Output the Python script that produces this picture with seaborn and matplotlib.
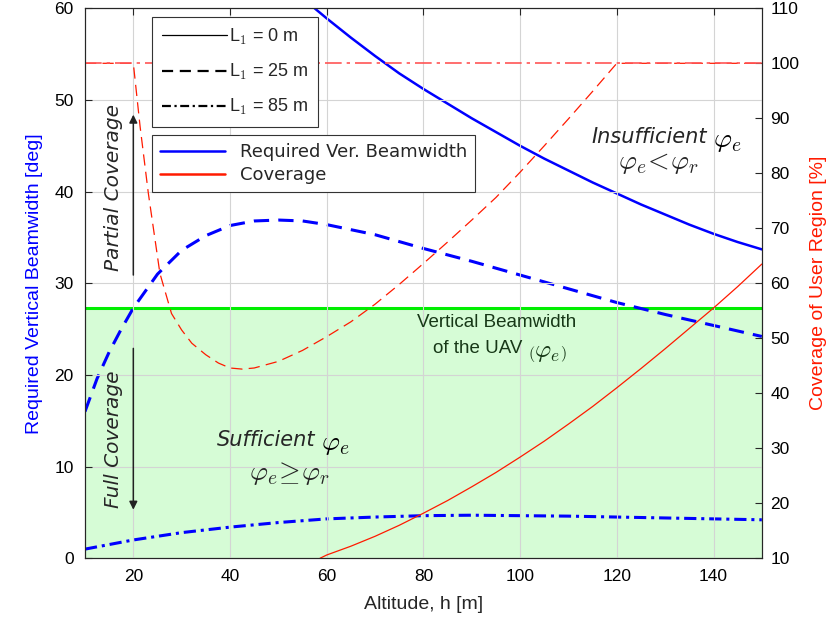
import numpy as np
import pandas as pd
import matplotlib
matplotlib.use("Agg")
import matplotlib.pyplot as plt
from matplotlib.lines import Line2D
import seaborn as sns

# ---------------- data ----------------
# Required vertical beamwidth [deg], left axis
h_bw_l0 = [57.5, 60, 65, 70, 75, 80, 85, 90, 95, 100, 105, 110, 115, 120,
           125, 130, 135, 140, 145, 150]
bw_l0 = [60.0, 58.9, 56.8, 54.8, 52.9, 51.2, 49.6, 48.0, 46.5, 45.0, 43.6,
         42.3, 41.0, 39.8, 38.6, 37.5, 36.4, 35.4, 34.5, 33.7]

h_bw_l25 = [10, 12.5, 15, 17.5, 20, 25, 30, 35, 40, 45, 50, 55, 60, 70, 80,
            90, 100, 110, 120, 130, 140, 150]
bw_l25 = [16.0, 19.6, 22.5, 25.0, 27.3, 31.0, 33.6, 35.2, 36.3, 36.8, 36.9,
          36.8, 36.4, 35.3, 33.8, 32.4, 30.9, 29.4, 27.9, 26.6, 25.4, 24.2]

h_bw_l85 = [10, 20, 30, 40, 50, 60, 70, 80, 90, 100, 110, 120, 130, 140, 150]
bw_l85 = [1.0, 2.0, 2.8, 3.4, 3.9, 4.3, 4.5, 4.65, 4.7, 4.65, 4.6, 4.5, 4.4,
          4.3, 4.2]

# Coverage of user region [%], right axis
h_cov_l0 = [58.6, 60, 65, 70, 75, 80, 85, 90, 95, 100, 105, 110, 115, 120,
            125, 130, 135, 140, 145, 150]
cov_l0 = [10.0, 10.6, 12.2, 14.0, 16.0, 18.2, 20.5, 23.0, 25.6, 28.4, 31.3,
          34.4, 37.6, 41.0, 44.5, 48.1, 51.8, 55.5, 59.4, 63.5]

h_cov_l25 = [10, 20, 21.4, 23.1, 25.5, 27.9, 30, 32.1, 35, 37.6, 40, 42.5, 45,
             50, 55, 60, 65, 70, 75, 80, 85, 90, 95, 100, 105, 110, 115, 120,
             150]
cov_l25 = [100, 100, 88.5, 76.4, 61.8, 54.5, 51.5, 49.1, 47.0, 45.5, 44.6,
           44.4, 44.6, 45.8, 47.8, 50.3, 53.0, 56.2, 59.8, 63.6, 67.5, 71.5,
           75.6, 80.2, 85.0, 89.9, 94.9, 100, 100]

h_cov_l85 = [10, 150]
cov_l85 = [100, 100]

uav_beamwidth = 27.3  # vertical beamwidth of the UAV [deg]

legend_l1 = ["L$_1$ = 0 m", "L$_1$ = 25 m", "L$_1$ = 85 m"]
legend_kind = ["Required Ver. Beamwidth", "Coverage"]

x_ticks = [20, 40, 60, 80, 100, 120, 140]
y_left_ticks = [0, 10, 20, 30, 40, 50, 60]
y_right_ticks = [10, 20, 30, 40, 50, 60, 70, 80, 90, 100, 110]

# ---------------- style ----------------
sns.set_theme(style="white")
plt.rcParams["font.family"] = ["Liberation Sans", "DejaVu Sans"]
plt.rcParams["mathtext.fontset"] = "cm"

fig = plt.figure(figsize=(8.29, 6.24), dpi=100)
ax = fig.add_axes([0.1025, 0.1053, 0.8165, 0.8814])
ax2 = ax.twinx()

BLUE = "#0000FF"
RED = "#FF1A00"

# green region + line
ax.axhspan(0, uav_beamwidth, color="#D6FCD6", zorder=0.2, lw=0)
ax.axhline(uav_beamwidth, color="#00EE00", lw=2.2, zorder=1.5)

# blue curves (left axis)
sns.lineplot(x=h_bw_l0, y=bw_l0, ax=ax, color=BLUE, lw=1.8, linestyle="-")
sns.lineplot(x=h_bw_l25, y=bw_l25, ax=ax, color=BLUE, lw=2.2,
             linestyle=(0, (5, 3)))
sns.lineplot(x=h_bw_l85, y=bw_l85, ax=ax, color=BLUE, lw=2.2,
             linestyle=(0, (4, 1.6, 1, 1.6)))

# red curves (right axis)
sns.lineplot(x=h_cov_l0, y=cov_l0, ax=ax2, color=RED, lw=0.9, linestyle="-")
sns.lineplot(x=h_cov_l25, y=cov_l25, ax=ax2, color=RED, lw=0.9,
             linestyle=(0, (9, 5)))
sns.lineplot(x=h_cov_l85, y=cov_l85, ax=ax2, color="#FF5555", lw=1.2,
             linestyle=(0, (10, 3, 2, 3)))

# axes limits/ticks
ax.set_xlim(10, 150)
ax.set_ylim(0, 60)
ax2.set_ylim(10, 110)
ax.set_xticks(x_ticks)
ax.set_yticks(y_left_ticks)
ax2.set_yticks(y_right_ticks)

ax.grid(True, color="#d4d4d4", lw=0.8)
ax.set_axisbelow(False)
for a in (ax, ax2):
    for s in a.spines.values():
        s.set_color("#262626")
        s.set_linewidth(0.8)
ax.tick_params(axis="both", direction="in", length=5, width=0.8,
               labelsize=12.5, top=True, right=False, colors="#262626",
               labelcolor="black", pad=8)
ax2.tick_params(axis="y", direction="in", length=5, width=0.8,
                labelsize=12.5, colors="#262626", labelcolor="black", pad=6)

ax.set_xlabel("Altitude, h [m]", fontsize=14, labelpad=8)
ax.set_ylabel("Required Vertical Beamwidth [deg]", fontsize=14, color=BLUE,
              labelpad=8)
ax2.set_ylabel("Coverage of User Region [%]", fontsize=14, color=RED,
               labelpad=8)

# annotations
ax.annotate("", xy=(20, 48.4), xytext=(20, 30.9),
            arrowprops=dict(arrowstyle="-|>", color="#222222", lw=1.1,
                            mutation_scale=12, shrinkA=0, shrinkB=0))
ax.annotate("", xy=(20, 5.3), xytext=(20, 22.9),
            arrowprops=dict(arrowstyle="-|>", color="#222222", lw=1.1,
                            mutation_scale=12, shrinkA=0, shrinkB=0))
ax.text(15.8, 40.5, "Partial Coverage", rotation=90, ha="center",
        va="center", fontsize=14.5, style="italic", family="DejaVu Sans")
ax.text(15.8, 13.0, "Full Coverage", rotation=90, ha="center",
        va="center", fontsize=14.5, style="italic", family="DejaVu Sans")


def word_and_math(x, y, word, math, wsize, msize, **kw):
    t = ax.text(x, y, word, ha="right", va="baseline", fontsize=wsize, **kw)
    ax.annotate(math, xy=(1, 0), xycoords=t, xytext=(4, 0),
                textcoords="offset points", ha="left", va="baseline",
                fontsize=msize, color=kw.get("color", "black"))
    return t


word_and_math(57.6, 12.2, "Sufficient", "$\\varphi_e$", 15, 20,
              style="italic", family="DejaVu Sans")
ax.text(52.2, 9.3, "$\\varphi_e\\!\\geq\\!\\varphi_r$", ha="center",
        va="center", fontsize=20)
word_and_math(138.7, 45.3, "Insufficient", "$\\varphi_e$", 15, 20,
              style="italic", family="DejaVu Sans")
ax.text(128.6, 43.1, "$\\varphi_e\\!<\\!\\varphi_r$", ha="center",
        va="center", fontsize=20)
ax.text(95.2, 25.7, "Vertical Beamwidth", ha="center", va="center",
        fontsize=13.5, color="#173817")
word_and_math(100.4, 22.4, "of the UAV", "$\\left(\\varphi_e\\right)$",
              13.5, 18, color="#173817")

# legends
h1 = [Line2D([], [], color="black", lw=0.9, linestyle="-"),
      Line2D([], [], color="black", lw=1.6, linestyle=(0, (5, 3))),
      Line2D([], [], color="black", lw=1.6, linestyle=(0, (4, 1.6, 1, 1.6)))]
leg1 = ax2.legend(h1, legend_l1, loc="upper left",
                  bbox_to_anchor=(0.099, 0.985),
                  prop={"family": "Liberation Sans", "size": 13},
                  frameon=True, fancybox=False, framealpha=1,
                  edgecolor="#333333", handlelength=3.6, handletextpad=0.1,
                  labelspacing=0.85, borderpad=0.55, borderaxespad=0)
leg1.get_frame().set_linewidth(0.8)
ax2.add_artist(leg1)

h2 = [Line2D([], [], color=BLUE, lw=1.8), Line2D([], [], color=RED, lw=1.8)]
leg2 = ax2.legend(h2, legend_kind, loc="upper left",
                  bbox_to_anchor=(0.099, 0.770),
                  prop={"family": "DejaVu Sans", "size": 13},
                  frameon=True, fancybox=False, framealpha=1,
                  edgecolor="#333333", handlelength=3.6, handletextpad=0.8,
                  labelspacing=0.3, borderpad=0.45, borderaxespad=0)
leg2.get_frame().set_linewidth(0.8)

fig.savefig("out.png", dpi=100)
